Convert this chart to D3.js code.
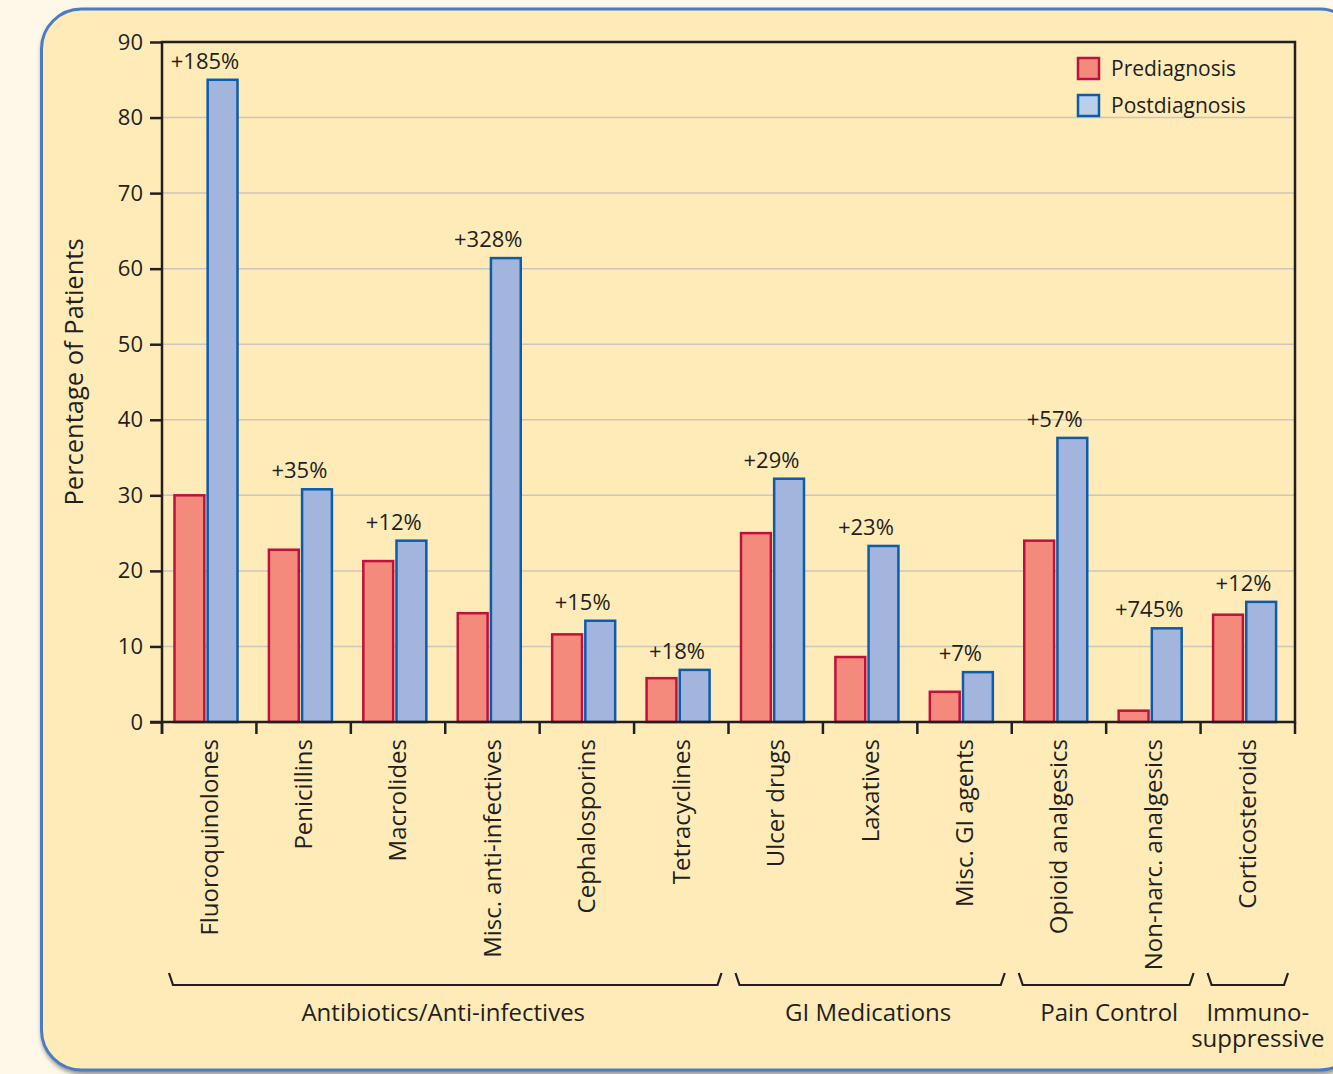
<!DOCTYPE html>
<html>
<head>
<meta charset="utf-8">
<script src="https://cdn.jsdelivr.net/npm/d3@7"></script>
<style>
  body { margin: 0; background: #fdf8e7; }
  svg { display: block; font-family: "Open Sans", "DejaVu Sans", sans-serif; }
  text { fill: #231f20; }
</style>
</head>
<body>
<div id="chart"></div>
<script>
// Categories along the x axis
var categories = ["Fluoroquinolones", "Penicillins", "Macrolides", "Misc. anti-infectives",
    "Cephalosporins", "Tetracyclines", "Ulcer drugs", "Laxatives", "Misc. GI agents",
    "Opioid analgesics", "Non-narc. analgesics", "Corticosteroids"];

// Percentage of patients
var prediagnosis  = [30.0, 22.8, 21.3, 14.4, 11.6, 5.8, 25.0, 8.6, 4.0, 24.0, 1.5, 14.2];
var postdiagnosis = [85.0, 30.8, 24.0, 61.4, 13.4, 6.9, 32.2, 23.3, 6.6, 37.6, 12.4, 15.9];
var changeLabels  = ["+185%", "+35%", "+12%", "+328%", "+15%", "+18%", "+29%", "+23%", "+7%", "+57%", "+745%", "+12%"];

// Drug class groups (first / last category index)
var groupNames = [["Antibiotics/Anti-infectives"], ["GI Medications"], ["Pain Control"], ["Immuno-", "suppressive"]];
var groupFirst = [0, 6, 9, 11];
var groupLast  = [5, 8, 10, 11];

var yTicks = [0, 10, 20, 30, 40, 50, 60, 70, 80, 90];
var seriesNames = ["Prediagnosis", "Postdiagnosis"];

var width = 1333, height = 1074;
var plotLeft = 162, plotRight = 1295, plotTop = 42, plotBottom = 722;

var svg = d3.select("#chart").append("svg")
    .attr("width", width)
    .attr("height", height);

// drop shadow for the panel
var defs = svg.append("defs");
var shadow = defs.append("filter").attr("id", "shadow")
    .attr("x", "-5%").attr("y", "-5%").attr("width", "110%").attr("height", "110%");
shadow.append("feDropShadow")
    .attr("dx", 1).attr("dy", 3).attr("stdDeviation", 2)
    .attr("flood-color", "#777").attr("flood-opacity", 0.8);

// yellow panel (its right edge runs off the page)
svg.append("rect")
    .attr("x", 41.5).attr("y", 9)
    .attr("width", 1318).attr("height", 1061)
    .attr("rx", 40).attr("ry", 40)
    .attr("fill", "#feebb8")
    .attr("stroke", "#4a7bc4")
    .attr("stroke-width", 3)
    .attr("filter", "url(#shadow)");

// scales
var x = d3.scaleBand()
    .domain(categories)
    .range([plotLeft, plotRight])
    .paddingInner(0).paddingOuter(0);

var xSeries = d3.scaleBand()
    .domain(seriesNames)
    .range([12.5, 75.5])
    .paddingInner(0.1);

var y = d3.scaleLinear()
    .domain([0, 90])
    .range([plotBottom, plotTop]);

var color = d3.scaleOrdinal().domain(seriesNames).range(["#f48a7b", "#a3b5dc"]);
var strokeColor = d3.scaleOrdinal().domain(seriesNames).range(["#c0103c", "#0b5cad"]);

// gridlines
svg.append("g")
    .selectAll("line")
    .data(yTicks.filter(function(d) { return d > 0 && d < 90; }))
    .enter().append("line")
    .attr("x1", plotLeft).attr("x2", plotRight)
    .attr("y1", function(d) { return y(d); })
    .attr("y2", function(d) { return y(d); })
    .attr("stroke", "#cbc7bb")
    .attr("stroke-width", 1.5);

// bars
var rows = categories.map(function(c, i) {
    return { category: c, values: [
        { series: "Prediagnosis", value: prediagnosis[i] },
        { series: "Postdiagnosis", value: postdiagnosis[i] }
    ], label: changeLabels[i], post: postdiagnosis[i] };
});

var groups = svg.append("g").selectAll("g.cat")
    .data(rows)
    .enter().append("g")
    .attr("class", "cat")
    .attr("transform", function(d) { return "translate(" + x(d.category) + ",0)"; });

groups.selectAll("rect")
    .data(function(d) { return d.values; })
    .enter().append("rect")
    .attr("x", function(d) { return xSeries(d.series); })
    .attr("width", xSeries.bandwidth())
    .attr("y", function(d) { return y(d.value); })
    .attr("height", function(d) { return y(0) - y(d.value); })
    .attr("fill", function(d) { return color(d.series); })
    .attr("stroke", function(d) { return strokeColor(d.series); })
    .attr("stroke-width", 2.5);

// percentage change labels
groups.append("text")
    .attr("x", (xSeries.range()[0] + xSeries.range()[1]) / 2 - 1)
    .attr("y", function(d) { return y(d.post) - 11; })
    .attr("text-anchor", "middle")
    .style("font-size", "22px")
    .text(function(d) { return d.label; });

// y axis
var yAxis = svg.append("g")
    .attr("transform", "translate(" + plotLeft + ",0)")
    .call(d3.axisLeft(y).tickValues(yTicks).tickSize(12).tickPadding(7));
yAxis.select(".domain").remove();
yAxis.selectAll(".tick line").attr("stroke", "#231f20").attr("stroke-width", 2.5);
yAxis.selectAll(".tick text")
    .attr("fill", "#231f20")
    .style("font-size", "22px")
    .style("font-family", "'Open Sans', sans-serif");

// x axis ticks at category boundaries
var boundaries = categories.map(function(c) { return x(c); }).concat([plotRight]);
svg.append("g").selectAll("line")
    .data(boundaries)
    .enter().append("line")
    .attr("x1", function(d) { return d; }).attr("x2", function(d) { return d; })
    .attr("y1", plotBottom).attr("y2", plotBottom + 12)
    .attr("stroke", "#231f20").attr("stroke-width", 2.5);

// frame: top, left, right, bottom (bottom extends to the left ticks)
svg.append("path")
    .attr("d", "M" + (plotLeft - 12) + "," + plotBottom + "H" + plotRight + "V" + plotTop + "H" + plotLeft + "V" + (plotBottom + 12))
    .attr("fill", "none")
    .attr("stroke", "#231f20")
    .attr("stroke-width", 2.5);

// rotated category labels
svg.append("g").selectAll("text")
    .data(categories)
    .enter().append("text")
    .attr("transform", function(d) {
        return "translate(" + (x(d) + x.bandwidth() / 2) + "," + (plotBottom + 17) + ") rotate(-90)";
    })
    .attr("dy", "0.35em")
    .attr("text-anchor", "end")
    .style("font-size", "24px")
    .text(function(d) { return d; });

// y axis title
svg.append("text")
    .attr("transform", "translate(74," + 372 + ") rotate(-90)")
    .attr("dy", "0.35em")
    .attr("text-anchor", "middle")
    .style("font-size", "25.5px")
    .text("Percentage of Patients");

// group braces and names
var braceTop = 973, braceBottom = 985;
groupNames.forEach(function(name, i) {
    var x0 = x(categories[groupFirst[i]]) + 7;
    var x1 = x(categories[groupLast[i]]) + x.bandwidth() - 7;
    svg.append("path")
        .attr("d", "M" + x0 + "," + braceTop + "L" + (x0 + 4) + "," + braceBottom +
            "H" + (x1 - 4) + "L" + x1 + "," + braceTop)
        .attr("fill", "none")
        .attr("stroke", "#231f20")
        .attr("stroke-width", 2.2);
    var cx = (x0 + x1) / 2 + (name.length > 1 ? 10 : i === 2 ? 3 : -2);
    var t = svg.append("text")
        .attr("y", 1021)
        .attr("text-anchor", "middle")
        .style("font-size", "24px");
    name.forEach(function(line, j) {
        t.append("tspan")
            .attr("x", cx)
            .attr("dy", j === 0 ? 0 : 26)
            .text(line);
    });
});

// legend
var legend = svg.append("g").selectAll("g")
    .data(seriesNames)
    .enter().append("g")
    .attr("transform", function(d, i) { return "translate(1078," + (58 + i * 37) + ")"; });
legend.append("rect")
    .attr("width", 21).attr("height", 21)
    .attr("fill", function(d, i) { return i === 0 ? "#f48a7b" : "#bccfea"; })
    .attr("stroke", function(d) { return strokeColor(d); })
    .attr("stroke-width", 2.5);
legend.append("text")
    .attr("x", 33).attr("y", 11)
    .attr("dy", "0.35em")
    .style("font-size", "21px")
    .text(function(d) { return d; });
</script>
</body>
</html>
